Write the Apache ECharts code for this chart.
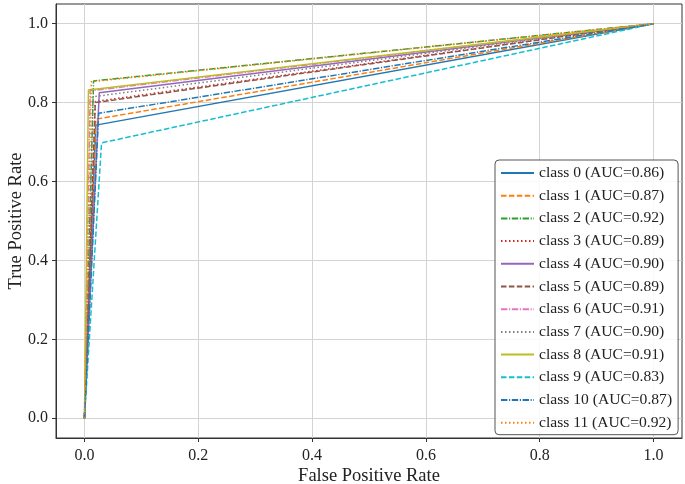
<!DOCTYPE html>
<html>
<head>
<meta charset="utf-8">
<script src="https://cdn.jsdelivr.net/npm/echarts@6/dist/echarts.min.js"></script>
<style>html,body{margin:0;padding:0;background:#fff}#c{width:685px;height:484px}</style>
</head>
<body>
<div id="c"></div>
<script>
var classNames = ['class 0','class 1','class 2','class 3','class 4','class 5','class 6','class 7','class 8','class 9','class 10','class 11'];
var aucValues = [0.86,0.87,0.92,0.89,0.90,0.89,0.91,0.90,0.91,0.83,0.87,0.92];
var kneeFpr = [0.020,0.020,0.016,0.019,0.026,0.019,0.010,0.015,0.007,0.030,0.025,0.012];
var kneeTpr = [0.743,0.758,0.855,0.803,0.825,0.800,0.830,0.815,0.832,0.698,0.773,0.853];
var tickValues = [0.0,0.2,0.4,0.6,0.8,1.0];

var colors = ['#1f77b4','#ff7f0e','#2ca02c','#d62728','#9467bd','#8c564b','#e377c2','#7f7f7f','#bcbd22','#17becf','#1f77b4','#ff7f0e'];
var dashes = [null,[5.5,2.4],[6.4,1.6,1.2,1.6],[1.5,2.5]];
var FONT = 'Liberation Serif';

var series = classNames.map(function(n,i){
  var d = dashes[i%4];
  return {
    name: n + ' (AUC=' + aucValues[i].toFixed(2) + ')',
    type: 'line',
    showSymbol: false,
    symbol: 'none',
    animation: false,
    data: [[0,0],[kneeFpr[i],kneeTpr[i]],[1,1]],
    lineStyle: {color: colors[i], width: 1.5, type: d ? d : 'solid', cap: 'butt'},
    itemStyle: {color: colors[i]}
  };
});

var chart = echarts.init(document.getElementById('c'), null, {renderer:'canvas'});
chart.setOption({
  animation: false,
  backgroundColor: '#fff',
  grid: {left:56, right:3, top:4, bottom:46, show:true, borderColor:'#333', borderWidth:1, backgroundColor:'transparent', containLabel:false, outerBoundsMode:'none'},
  xAxis: {
    type:'value', min:-0.05, max:1.05,
    name:'False Positive Rate', nameLocation:'middle', nameGap:29, nameMoveOverlap:false,
    nameTextStyle:{fontFamily:FONT, fontSize:18.5, color:'#222'},
    axisLine:{show:true, onZero:false, lineStyle:{color:'#333', width:1}},
    axisTick:{show:true, inside:false, length:4, lineStyle:{color:'#333'}, customValues: tickValues},
    axisLabel:{fontFamily:FONT, fontSize:16, color:'#222', margin:10, customValues: tickValues,
      formatter:function(v){return v.toFixed(1);}},
    splitLine:{show:true, lineStyle:{color:'#d3d3d3', width:1}}
  },
  yAxis: {
    type:'value', min:-0.05, max:1.05,
    name:'True Positive Rate', nameLocation:'middle', nameGap:30, nameRotate:90, nameMoveOverlap:false,
    nameTextStyle:{fontFamily:FONT, fontSize:18.5, color:'#222'},
    axisLine:{show:true, onZero:false, lineStyle:{color:'#333', width:1}},
    axisTick:{show:true, inside:false, length:4, lineStyle:{color:'#333'}, customValues: tickValues},
    axisLabel:{fontFamily:FONT, fontSize:16, color:'#222', margin:8, customValues: tickValues,
      formatter:function(v){return v.toFixed(1);}},
    splitLine:{show:true, lineStyle:{color:'#d3d3d3', width:1}}
  },
  legend: {
    show:true,
    orient:'vertical', left:495, top:160,
    backgroundColor:'rgba(255,255,255,0.85)', borderColor:'#555', borderWidth:1, borderRadius:4,
    padding:[5,6,4,5],
    itemWidth:33, itemHeight:16, itemGap:6.7,
    itemStyle:{opacity:0},
    textStyle:{fontFamily:FONT, fontSize:15.6, color:'#222'}
  },
  series: series
});
</script>
</body>
</html>
